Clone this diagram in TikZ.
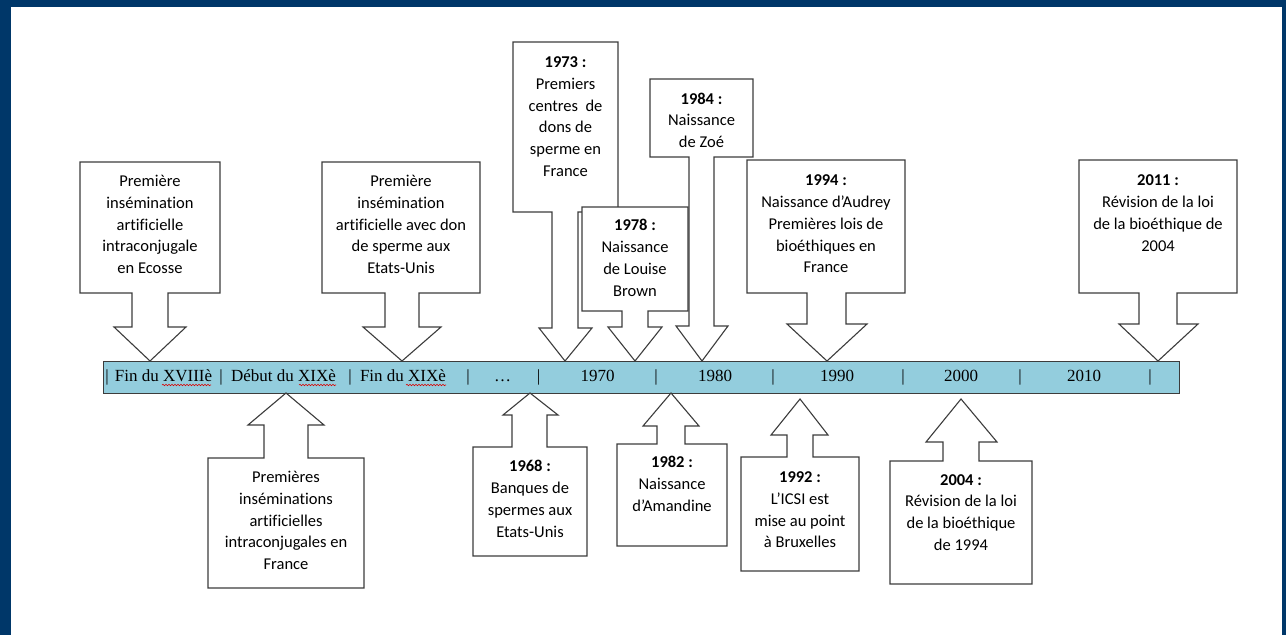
\documentclass[tikz,border=0pt]{standalone}
\usepackage{fontspec}
\setmainfont{Carlito}[Ligatures=NoCommon]
\newfontfamily\barfont{Liberation Serif}
\usetikzlibrary{decorations.pathmorphing}
\definecolor{frameblue}{RGB}{0,55,105}
\definecolor{barblue}{RGB}{147,205,221}
\definecolor{edgegray}{RGB}{60,60,60}
\begin{document}
\begin{tikzpicture}[x=1pt,y=-1pt,
  callout/.style={draw=edgegray, fill=white, line width=1.1pt, line join=miter},
  txt/.style={anchor=north, inner sep=0pt, align=center, font=\fontsize{16.5}{21.8}\selectfont},
  barlbl/.style={anchor=base, inner sep=0pt, font=\barfont\fontsize{17}{20}\selectfont},
  wavy/.style={draw=red!85!black, line width=0.6pt, decorate, decoration={snake, segment length=3pt, amplitude=0.7pt}}]
\useasboundingbox (0,0) rectangle (1286,635);
% frame
\fill[frameblue] (0,0) rectangle (1286,635);
\fill[white] (11,7) rectangle (1282,635);

% timeline bar
\node[draw=edgegray, fill=barblue, line width=1pt, minimum width=1076pt, minimum height=32pt, inner sep=0pt, anchor=north west] (bar) at (103,361) {};

% separators
\foreach \i/\x in {1/107,2/221,3/350,4/468,5/538.5,6/656,7/773,8/903,9/1020,10/1150}{
  \node[barlbl] (sep\i) at (\x,381) {|};
}
% labels
\node[barlbl] (l1) at (163.5,381) {Fin du XVIIIè};
\node[barlbl] (l2) at (283.5,381) {Début du XIXè};
\node[barlbl] (l3) at (403,381) {Fin du XIXè};
\node[barlbl] (l4) at (502.5,381) {…};
\node[barlbl] (l5) at (597.5,381) {1970};
\node[barlbl] (l6) at (715,381) {1980};
\node[barlbl] (l7) at (837,381) {1990};
\node[barlbl] (l8) at (961,381) {2000};
\node[barlbl] (l9) at (1084,381) {2010};
% spell-check underlines
\draw[wavy] (162,385) -- (211,385);
\draw[wavy] (299,385) -- (336,385);
\draw[wavy] (406,385) -- (446,385);

% ---- callouts above ----
\draw[callout] (80,162) -- (220,162) -- (220,293) -- (168,293) -- (168,327) -- (186,327) -- (150,361) -- (114,327) -- (132,327) -- (132,293) -- (80,293) -- cycle;
\node[txt] (c1) at (150,171) {\strut Première\\insémination\\artificielle\\intraconjugale\\en Ecosse};

\draw[callout] (322,162) -- (480,162) -- (480,293) -- (419,293) -- (419,327) -- (441,327) -- (402,361) -- (363,327) -- (385,327) -- (385,293) -- (322,293) -- cycle;
\node[txt] (c2) at (401,171) {\strut Première\\insémination\\artificielle avec don\\de sperme aux\\Etats-Unis};

\draw[callout] (513,42) -- (618,42) -- (618,212) -- (578,212) -- (578,328) -- (592,328) -- (565,361) -- (539,328) -- (552,328) -- (552,212) -- (513,212) -- cycle;
\node[txt] (c1973) at (565.5,52) {\strut\textbf{1973 :}\\Premiers\\centres\ \ de\\dons de\\sperme en\\France};

\draw[callout] (650,79) -- (753,79) -- (753,157) -- (714,157) -- (714,326) -- (728,326) -- (702,361) -- (676,326) -- (689,326) -- (689,157) -- (650,157) -- cycle;
\node[txt] (c1984) at (701.5,88.6) {\strut\textbf{1984 :}\\Naissance\\de Zoé};

\draw[callout] (582,207) -- (688,207) -- (688,311) -- (648,311) -- (648,327) -- (662,327) -- (635,361) -- (608,327) -- (622,327) -- (622,311) -- (582,311) -- cycle;
\node[txt] (c1978) at (635,215.3) {\strut\textbf{1978 :}\\Naissance\\de Louise\\Brown};

\draw[callout] (747,160) -- (905,160) -- (905,293) -- (846,293) -- (846,324) -- (867,324) -- (827,361) -- (787,324) -- (807,324) -- (807,293) -- (747,293) -- cycle;
\node[txt] (c1994) at (826,170.3) {\strut\textbf{1994 :}\\Naissance d’Audrey\\Premières lois de\\bioéthiques en\\France};

\draw[callout] (1079,160) -- (1237,160) -- (1237,293) -- (1177,293) -- (1177,324) -- (1198,324) -- (1158,361) -- (1119,324) -- (1139,324) -- (1139,293) -- (1079,293) -- cycle;
\node[txt] (c2011) at (1158,170.3) {\strut\textbf{2011 :}\\Révision de la loi\\de la bioéthique de\\2004};

% ---- callouts below ----
\draw[callout] (208,588) -- (364,588) -- (364,458) -- (308,458) -- (308,425) -- (324,425) -- (286,393) -- (248,425) -- (264,425) -- (264,458) -- (208,458) -- cycle;
\node[txt] (cfr) at (286,467) {\strut Premières\\inséminations\\artificielles\\intraconjugales en\\France};

\draw[callout] (473,556) -- (587,556) -- (587,447) -- (547,447) -- (547,415) -- (558,415) -- (530,393) -- (503,415) -- (512,415) -- (512,447) -- (473,447) -- cycle;
\node[txt] (c1968) at (530,456.3) {\strut\textbf{1968 :}\\Banques de\\spermes aux\\Etats-Unis};

\draw[callout] (617,546) -- (727,546) -- (727,444) -- (685,444) -- (685,426) -- (699,426) -- (671,393) -- (643,426) -- (657,426) -- (657,444) -- (617,444) -- cycle;
\node[txt] (c1982) at (672,452) {\strut\textbf{1982 :}\\Naissance\\d’Amandine};

\draw[callout] (741,571) -- (859,571) -- (859,457) -- (813,457) -- (813,435) -- (828,435) -- (800,399) -- (771,435) -- (787,435) -- (787,457) -- (741,457) -- cycle;
\node[txt] (c1992) at (800,467) {\strut\textbf{1992 :}\\L’ICSI est\\mise au point\\à Bruxelles};

\draw[callout] (890,584) -- (1032,584) -- (1032,461) -- (979,461) -- (979,442) -- (997,442) -- (961,399) -- (926,442) -- (943,442) -- (943,461) -- (890,461) -- cycle;
\node[txt] (c2004) at (961,469.6) {\strut\textbf{2004 :}\\Révision de la loi\\de la bioéthique\\de 1994};
\end{tikzpicture}
\end{document}
